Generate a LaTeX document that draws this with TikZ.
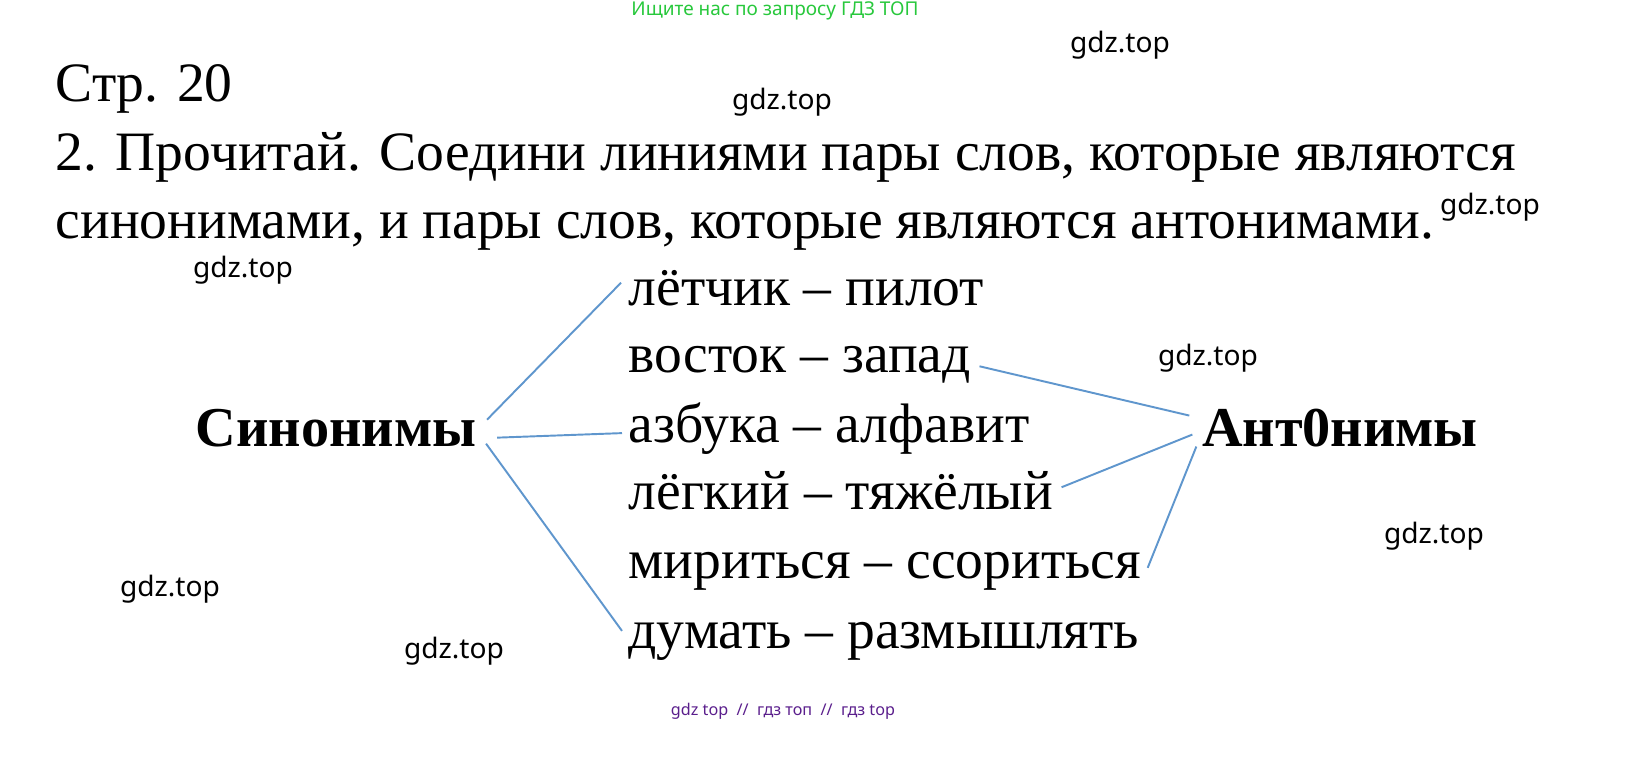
\documentclass[tikz,border=0pt]{standalone}
\usepackage{fontspec}
\setmainfont{Liberation Serif}
\newfontfamily\wmfont{Noto Sans}
\usetikzlibrary{calc}
\definecolor{linkblue}{RGB}{95,150,205}
\definecolor{wmgreen}{RGB}{40,200,60}
\definecolor{wmpurple}{RGB}{90,30,140}
\begin{document}
\begin{tikzpicture}[x=0.01cm,y=-0.01cm,
  txt/.style={inner sep=0pt,font=\fontsize{15.8}{19}\selectfont},
  head/.style={inner sep=0pt,font=\fontsize{16}{19}\selectfont\bfseries},
  wm/.style={inner sep=0pt,font=\wmfont\fontsize{8}{10}\selectfont},
  link/.style={draw=linkblue,line width=0.55pt}]
\useasboundingbox (0,0) rectangle (1638,757);

\node[wm,text=wmgreen,font=\wmfont\fontsize{5.4}{6}\selectfont] (top) at (775,11) {Ищите нас по запросу ГДЗ ТОП};
\node[wm,text=wmpurple,font=\wmfont\fontsize{4.6}{6}\selectfont] (bot) at (783,711) {gdz top \ // \ гдз топ \ // \ гдз top};

\node[txt,anchor=base west] (page) at (55,101) {Стр. 20};
\node[txt,anchor=base west] (task1) at (55,170) {2. Прочитай. Соедини линиями пары слов, которые являются};
\node[txt,anchor=base west] (task2) at (55,238) {синонимами, и пары слов, которые являются антонимами.};

% pairs of words
\node[txt,anchor=base west] (p1) at (628,305) {лётчик – пилот};
\node[txt,anchor=base west] (p2) at (628,372) {восток – запад};
\node[txt,anchor=base west] (p3) at (628,442) {азбука – алфавит};
\node[txt,anchor=base west] (p4) at (628,509) {лёгкий – тяжёлый};
\node[txt,anchor=base west] (p5) at (628,578) {мириться – ссориться};
\node[txt,anchor=base west] (p6) at (628,648) {думать – размышлять};

\node[head,anchor=base] (syn) at (336,446) {Синонимы};
\node[head,anchor=base] (ant) at (1340,446) {Ант0нимы};

% lines
\draw[link] ($(syn.east)+(10,-8)$) -- ($(p1.west)+(-7,-5)$);
\draw[link] ($(syn.east)+(20,10)$) -- ($(p3.west)+(-6,5)$);
\draw[link] ($(syn.east)+(9,16)$) -- ($(p6.west)+(-6,-10)$);
\draw[link] ($(p2.east)+(8,2)$) -- ($(ant.west)+(-12,-12)$);
\draw[link] ($(p4.east)+(8,-3)$) -- ($(ant.west)+(-9,7)$);
\draw[link] ($(p5.east)+(6,-3)$) -- ($(ant.west)+(-5,19)$);

% watermarks
\node[wm] (w1) at (1120,45) {gdz.top};
\node[wm] (w2) at (782,102) {gdz.top};
\node[wm] (w3) at (1490,207) {gdz.top};
\node[wm] (w4) at (243,270) {gdz.top};
\node[wm] (w5) at (1208,358) {gdz.top};
\node[wm] (w6) at (1434,536) {gdz.top};
\node[wm] (w7) at (170,589) {gdz.top};
\node[wm] (w8) at (454,651) {gdz.top};
\end{tikzpicture}
\end{document}
